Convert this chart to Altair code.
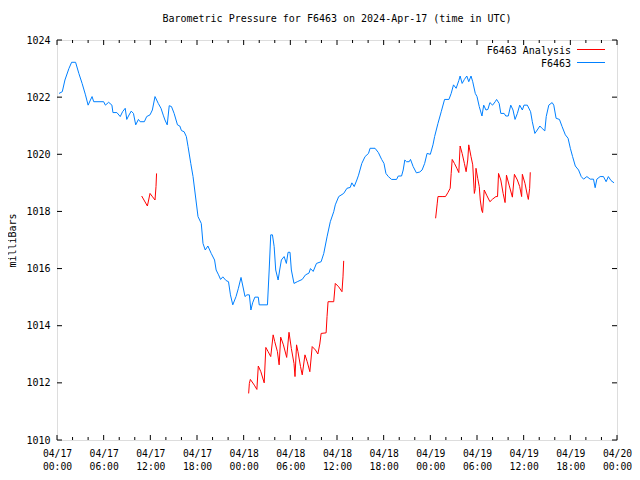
import altair as alt
import pandas as pd

# ---- data (hours since 2024-04-17 00:00 UTC, pressure in mb) ----
blue_h = [0.26, 0.68, 1.02, 1.53, 1.88, 2.39, 2.81, 3.23, 3.66, 4.0, 4.30, 4.51, 4.72, 6.0, 6.22, 6.64, 7.06, 7.19,
          7.70, 8.13, 8.43, 8.77, 8.97, 9.19, 9.54, 9.83, 10.12, 10.47, 10.69, 11.23, 11.53, 11.96, 12.26, 12.6,
          13.02, 13.37, 13.66, 13.88, 14.17, 14.43, 14.72, 15.06, 15.49, 15.79, 16.0, 16.34, 16.63, 16.85, 17.2,
          17.49, 18.13, 18.55, 18.77, 19.06, 19.40, 19.83, 20.26, 20.46, 20.77, 21.03, 21.32, 21.74, 22.05, 22.30,
          22.6, 23.02, 23.32, 23.66, 24.0, 24.17, 24.42, 24.73, 24.93, 25.15, 25.44, 25.88, 26.0, 27.06, 27.28,
          27.48, 27.70, 27.92, 28.12, 28.43, 28.63, 28.85, 29.2, 29.49, 29.71, 29.96, 30.13, 30.47, 30.89, 31.53,
          31.95, 32.39, 32.59, 32.94, 33.36, 33.96, 34.30, 34.72, 35.14, 35.58, 35.78, 36.22, 36.86, 37.28, 37.70,
          37.91, 38.21, 38.55, 38.77, 39.19, 39.61, 40.05, 40.25, 40.89, 41.32, 41.74, 42.04, 42.29, 42.60, 43.02,
          43.66, 43.88, 44.30, 44.51, 44.72, 44.94, 45.28, 45.45, 45.79, 46.21, 46.64, 46.94, 47.27, 47.58, 48.0,
          48.34, 48.55, 48.98, 49.40, 49.83, 50.39, 50.68, 50.98, 51.32, 51.66, 51.83, 52.09, 52.38, 52.69, 52.94,
          53.23, 53.45, 53.78, 54.0, 54.29, 54.64, 54.86, 55.15, 55.40, 55.66, 56.0, 56.34, 56.52, 56.85, 57.06,
          57.49, 57.70, 58.02, 58.34, 58.63, 58.89, 59.19, 59.49, 59.83, 60.04, 60.47, 60.89, 61.11, 61.44, 61.75,
          62.08, 62.39, 62.72, 62.90, 63.23, 63.66, 63.87, 64.17, 64.60, 64.94, 65.36, 65.71, 66.0, 66.29, 66.64,
          67.06, 67.40, 67.70, 68.13, 68.55, 68.98, 69.19, 69.41, 69.83, 70.26, 70.60, 70.89, 71.23, 71.62]
blue_p = [1022.13, 1022.19, 1022.6, 1023.0, 1023.22, 1023.22, 1022.83, 1022.48, 1022.08, 1021.72, 1021.9, 1022.02,
          1021.84, 1021.84, 1021.72, 1021.82, 1021.72, 1021.46, 1021.46, 1021.32, 1021.49, 1021.61, 1021.22, 1021.34,
          1021.51, 1021.43, 1021.03, 1021.22, 1021.14, 1021.14, 1021.32, 1021.38, 1021.55, 1022.02, 1021.78, 1021.61,
          1021.37, 1021.2, 1021.03, 1021.70, 1021.67, 1021.43, 1021.03, 1020.99, 1020.83, 1020.79, 1020.62, 1020.27,
          1019.68, 1019.22, 1017.82, 1017.58, 1016.88, 1016.65, 1016.79, 1016.53, 1016.3, 1015.95, 1015.78, 1015.62,
          1015.71, 1015.58, 1015.54, 1015.08, 1014.73, 1015.02, 1015.31, 1015.69, 1015.25, 1015.02, 1015.08, 1015.08,
          1014.55, 1014.8, 1015.0, 1015.0, 1014.73, 1014.73, 1015.95, 1017.18, 1017.18, 1016.77, 1015.95, 1015.6,
          1015.95, 1016.3, 1016.42, 1016.18, 1016.57, 1016.57, 1015.95, 1015.48, 1015.54, 1015.62, 1015.78, 1015.84,
          1016.0, 1015.9, 1016.18, 1016.24, 1016.53, 1017.11, 1017.64, 1017.99, 1018.23, 1018.52, 1018.63, 1018.81,
          1018.84, 1019.0, 1018.87, 1019.1, 1019.27, 1019.68, 1019.92, 1020.03, 1020.21, 1020.21, 1020.06, 1019.82,
          1019.68, 1019.33, 1019.22, 1019.12, 1019.12, 1019.24, 1019.24, 1019.45, 1019.8, 1019.74, 1019.74, 1019.82,
          1019.57, 1019.35, 1019.38, 1019.45, 1019.68, 1020.03, 1020.0, 1020.33, 1020.62, 1021.08, 1021.49, 1021.92,
          1021.92, 1022.13, 1022.43, 1022.31, 1022.58, 1022.74, 1022.48, 1022.62, 1022.74, 1022.54, 1022.74, 1022.54,
          1022.13, 1022.02, 1021.67, 1021.34, 1021.72, 1021.55, 1021.57, 1021.81, 1021.72, 1021.84, 1021.92, 1021.78,
          1021.43, 1021.43, 1021.34, 1021.34, 1021.72, 1021.55, 1021.22, 1021.43, 1021.72, 1021.55, 1021.72, 1021.72,
          1021.49, 1021.14, 1020.73, 1020.85, 1020.99, 1020.90, 1020.82, 1021.32, 1021.72, 1021.81, 1021.72, 1021.26,
          1021.22, 1020.97, 1020.68, 1020.56, 1020.21, 1019.92, 1019.59, 1019.45, 1019.22, 1019.13, 1019.22, 1019.13,
          1019.13, 1018.83, 1019.13, 1019.22, 1019.22, 1019.04, 1019.22, 1019.08, 1019.0]

red1_h = [10.89, 11.62, 11.96, 12.29, 12.60, 12.73, 12.80]
red1_p = [1018.54, 1018.19, 1018.63, 1018.51, 1018.4, 1018.87, 1019.33]

red2_h = [24.64, 24.73, 24.86, 25.37, 25.70, 25.88, 26.21, 26.64, 26.85, 27.15, 27.48, 27.79, 27.99, 28.34, 28.56,
          28.76, 29.11, 29.53, 29.83, 30.13, 30.47, 30.60, 30.80, 30.98, 31.31, 31.53, 31.88, 32.17, 32.51, 32.81,
          33.23, 33.54, 33.79, 33.96, 34.60, 34.72, 34.85, 35.58, 35.78, 36.22, 36.64, 36.77, 36.86]
red2_p = [1011.63, 1011.98, 1012.12, 1011.92, 1011.77, 1012.59, 1012.39, 1012.0, 1013.24, 1013.09, 1012.92, 1013.68,
          1013.45, 1013.09, 1012.63, 1013.6, 1013.33, 1012.89, 1013.77, 1013.2, 1012.68, 1012.22, 1013.33, 1013.09,
          1012.57, 1012.28, 1012.98, 1012.74, 1012.39, 1013.27, 1013.15, 1013.01, 1013.36, 1013.73, 1013.75, 1014.32,
          1014.84, 1014.84, 1015.48, 1015.36, 1015.19, 1015.71, 1016.27]

red3_h = [48.68, 48.89, 48.98, 49.62, 49.95, 50.26, 50.55, 50.68, 50.81, 51.10, 51.41, 51.66, 51.83, 52.09, 52.38,
          52.60, 52.81, 52.94, 53.23, 53.45, 53.66, 53.78, 53.87, 54.09, 54.29, 54.42, 54.60, 54.72, 54.93, 55.24,
          55.66, 56.0, 56.43, 56.64, 56.77, 57.06, 57.36, 57.61, 57.79, 58.13, 58.55, 58.81, 59.19, 59.49, 59.74,
          59.83, 60.17, 60.47, 60.60, 60.77, 60.85]
red3_p = [1017.76, 1018.29, 1018.52, 1018.52, 1018.52, 1018.66, 1018.81, 1019.33, 1019.82, 1019.68, 1019.51, 1019.36,
          1020.29, 1020.03, 1019.68, 1019.39, 1019.8, 1020.33, 1019.92, 1019.63, 1018.63, 1018.8, 1019.51, 1019.16,
          1018.87, 1018.4, 1018.05, 1017.96, 1018.75, 1018.57, 1018.34, 1018.43, 1018.52, 1018.52, 1019.33, 1019.1,
          1018.63, 1018.31, 1019.27, 1018.92, 1018.5, 1019.3, 1019.1, 1018.87, 1018.52, 1019.3, 1018.98, 1018.57,
          1018.42, 1018.81, 1019.37]

major_tick_hours = list(range(0, 73, 6))
minor_tick_hours = [h for h in range(0, 73, 2) if h % 6 != 0]
y_tick_values = list(range(1010, 1025, 2))

T0 = int(pd.Timestamp("2024-04-17T00:00:00Z").value // 10**6)
HOUR = 3600 * 1000


def ms(hours):
    return [T0 + h * HOUR for h in hours]


blue_df = pd.DataFrame({"t": ms(blue_h), "p": blue_p})
red_df = pd.concat([
    pd.DataFrame({"t": ms(red1_h), "p": red1_p, "seg": 1}),
    pd.DataFrame({"t": ms(red2_h), "p": red2_p, "seg": 2}),
    pd.DataFrame({"t": ms(red3_h), "p": red3_p, "seg": 3}),
])
major_df = pd.DataFrame({"t": ms(major_tick_hours)})
minor_df = pd.DataFrame({"t": ms(minor_tick_hours)})
ytick_df = pd.DataFrame({"p": y_tick_values})

FONT = "DejaVu Sans Mono"
W, H = 560, 400
BLUE = "#0080ff"
RED = "#ff0000"

xscale = alt.Scale(type="utc", domain=[T0, T0 + 72 * HOUR], nice=False)
yscale = alt.Scale(domain=[1010, 1024], nice=False, zero=False)

xaxis = alt.Axis(values=ms(major_tick_hours), ticks=False, domain=False, grid=False,
                 labelExpr="[utcFormat(datum.value, '%m/%d'), utcFormat(datum.value, '%H:%M')]",
                 labelFont=FONT, labelFontSize=9.7, labelColor="black", labelPadding=8,
                 labelLineHeight=13, labelBaseline="top", title=None, labelOverlap=False,
                 labelFlush=False)
yaxis = alt.Axis(values=y_tick_values, ticks=False, domain=False, grid=False, format="d",
                 labelFont=FONT, labelFontSize=10, labelColor="black", labelPadding=7,
                 title="milliBars", titleFont=FONT, titleFontSize=10, titleFontWeight="normal",
                 titleColor="black", titlePadding=8)

X = alt.X("t:T", scale=xscale, axis=xaxis)
Y = alt.Y("p:Q", scale=yscale, axis=yaxis)

blue = alt.Chart(blue_df).mark_line(color=BLUE, strokeWidth=1).encode(x=X, y=Y)
red = alt.Chart(red_df).mark_line(color=RED, strokeWidth=1).encode(x=X, y=Y, detail="seg:N")


def xticks(df, length):
    bot = alt.Chart(df).mark_rule(color="black", strokeWidth=1).encode(
        x=X, y=alt.value(H), y2=alt.value(H - length))
    top = alt.Chart(df).mark_rule(color="black", strokeWidth=1).encode(
        x=X, y=alt.value(0), y2=alt.value(length))
    return [bot, top]


yt_left = alt.Chart(ytick_df).mark_rule(color="black", strokeWidth=1).encode(
    y=Y, x=alt.value(0), x2=alt.value(5))
yt_right = alt.Chart(ytick_df).mark_rule(color="black", strokeWidth=1).encode(
    y=Y, x=alt.value(W), x2=alt.value(W - 5))

one = pd.DataFrame({"a": [0]})
leg = []
for label, color, ypix in [("F6463 Analysis", RED, 10.5), ("F6463", BLUE, 23.5)]:
    leg.append(alt.Chart(one).mark_text(text=label, align="right", baseline="middle", font=FONT,
                                        fontSize=10, color="black").encode(
        x=alt.value(W - 46), y=alt.value(ypix)))
    leg.append(alt.Chart(one).mark_rule(color=color, strokeWidth=1).encode(
        x=alt.value(W - 40), x2=alt.value(W - 12), y=alt.value(ypix - 1)))

chart = alt.layer(
    blue, red, *xticks(major_df, 5), *xticks(minor_df, 3), yt_left, yt_right, *leg
).properties(
    width=W, height=H,
    title=alt.Title("Barometric Pressure for F6463 on 2024-Apr-17 (time in UTC)", font=FONT,
                    fontSize=10, fontWeight="normal", color="black", anchor="middle", offset=11),
    autosize=alt.AutoSizeParams(type="none"),
    padding={"left": 49, "top": 32, "right": 15, "bottom": 32},
).configure_view(stroke="black", strokeWidth=1).configure(background="white")

chart.save("out.html", embed_options={"renderer": "svg", "actions": False})
